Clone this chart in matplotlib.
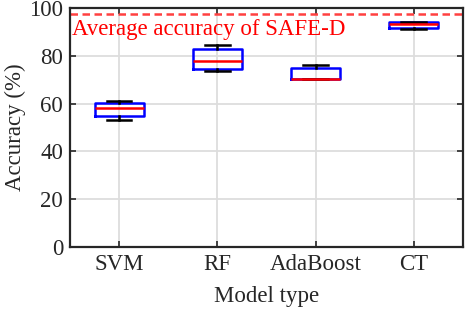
import matplotlib.pyplot as plt

plt.rcParams['font.family'] = ['Liberation Serif', 'DejaVu Serif']

models = ['SVM', 'RF', 'AdaBoost', 'CT']
whislo = [53.3, 73.7, 70.3, 91.3]
q1 = [54.7, 74.7, 70.3, 91.9]
med = [58.3, 77.9, 70.3, 93.4]
q3 = [60.3, 82.8, 74.8, 94.4]
whishi = [61.2, 84.5, 76.4, 94.5]
safe_d = 97.5

stats = []
for i, name in enumerate(models):
    stats.append({'label': name, 'whislo': whislo[i], 'q1': q1[i], 'med': med[i],
                  'q3': q3[i], 'whishi': whishi[i], 'fliers': []})

fig = plt.figure(figsize=(4.68, 3.11), dpi=100)
ax = fig.add_axes([0.1496, 0.2068, 0.8394, 0.766])

ax.bxp(stats, positions=[1, 2, 3, 4], widths=0.5, showfliers=False,
       boxprops=dict(color='blue', linewidth=1.8),
       medianprops=dict(color='red', linewidth=1.8),
       whiskerprops=dict(color='black', linewidth=1.8),
       capprops=dict(color='black', linewidth=1.8), capwidths=0.25)

ax.axhline(safe_d, color='#ff4040', linestyle=(0, (3, 1.8)), linewidth=1.8)
ax.text(0.52, 88.8, 'Average accuracy of SAFE-D', color='red', fontsize=16.5,
        va='baseline', ha='left')

ax.set_xlim(0.5, 4.5)
ax.set_ylim(0, 100)
ax.set_yticks([0, 20, 40, 60, 80, 100])
ax.grid(True, color='#dddddd', linewidth=1.3)
ax.set_axisbelow(True)
ax.tick_params(direction='in', length=4, width=1.2, labelsize=16.5, top=True, right=True,
               colors='#262626', pad=5)
for s in ax.spines.values():
    s.set_linewidth(1.6)
    s.set_color('#262626')

ax.set_xlabel('Model type', fontsize=16.5, labelpad=8, color='#262626')
ax.set_ylabel('Accuracy (%)', fontsize=16.5, labelpad=2.5, color='#262626')

fig.savefig('out.png', dpi=100)
